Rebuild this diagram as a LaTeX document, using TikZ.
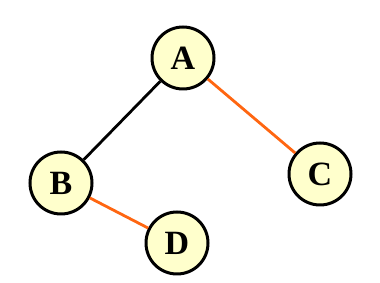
\documentclass[tikz,border=0pt]{standalone}
\usepackage{fontspec}
\setmainfont{Liberation Serif}
\definecolor{nodefill}{HTML}{FFFFCC}
\definecolor{edgeorange}{HTML}{FF6611}
\begin{document}
\begin{tikzpicture}[x=1pt,y=1pt,
  vnode/.style={circle,draw=black,line width=3pt,fill=nodefill,minimum size=62pt,inner sep=0pt,font=\bfseries\fontsize{34}{34}\selectfont},
  blackedge/.style={draw=black,line width=2.8pt},
  orangeedge/.style={draw=edgeorange,line width=2.8pt}]
\useasboundingbox (0,0) rectangle (380,283);
\node[vnode] (A) at (183,225) {A};
\node[vnode] (B) at (61,100) {B};
\node[vnode] (C) at (320,109) {C};
\node[vnode] (D) at (177,40) {D};
\draw[blackedge] (A) -- (B);
\draw[orangeedge] (A) -- (C);
\draw[orangeedge] (B) -- (D);
\end{tikzpicture}
\end{document}
